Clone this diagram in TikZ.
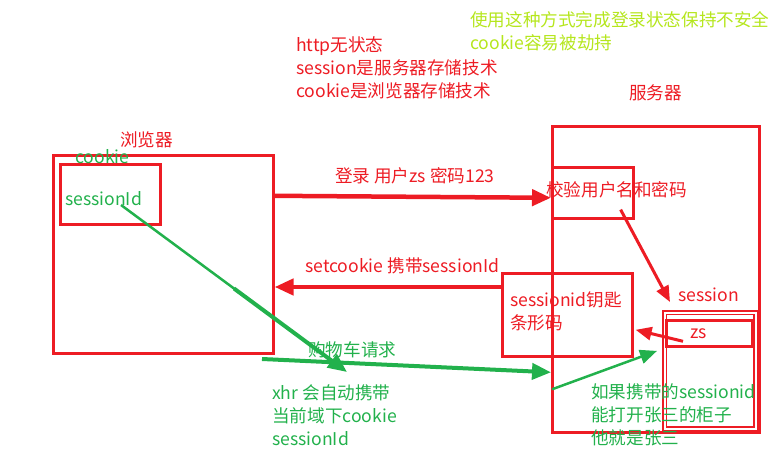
\documentclass[tikz,border=0pt]{standalone}
\usepackage{fontspec}
\setmainfont{Noto Sans CJK SC}
\usepackage{xcolor}
\usetikzlibrary{calc, positioning, arrows.meta}
\definecolor{paintred}{RGB}{237,28,36}
\definecolor{paintgreen}{RGB}{34,177,76}
\definecolor{paintlime}{RGB}{181,230,29}

\begin{document}
\begin{tikzpicture}[x=1pt, y=-1pt]
            % Block styles
            \tikzstyle{box} = [rectangle, draw=paintred, line width=2.6pt, anchor=north west, inner sep=0pt]
            \tikzstyle{lbl} = [anchor=west, inner sep=0pt, align=left, font=\fontsize{17.6}{23}\selectfont]
            \tikzstyle{red_arrow} = [draw=paintred, line width=4.5pt, -{Triangle[length=19pt, width=16pt]}]
            \tikzstyle{red_thin} = [draw=paintred, line width=3pt, -{Triangle[length=16pt, width=13pt]}]
            \tikzstyle{green_arrow} = [draw=paintgreen, line width=4pt, -{Triangle[length=19pt, width=16pt]}]
            \tikzstyle{green_thin} = [draw=paintgreen, line width=2.5pt, -{Triangle[length=17pt, width=14pt]}]
            \useasboundingbox (0,0) rectangle (784,465);
            % Browser
            \node[box, minimum width=220pt, minimum height=198pt] (browser) at (52,154) {};
            \node[box, minimum width=100pt, minimum height=60pt] (cookie_box) at (59,163) {};
            \node[lbl, text=paintred] (browser_lbl) at (120,140) {浏览器};
            \node[lbl, text=paintgreen] (cookie_lbl) at (75,157) {cookie};
            \node[lbl, text=paintgreen] (sid) at (65,199) {sessionId};
            % Server
            \node[box, minimum width=207pt, minimum height=306pt] (server) at (551,125) {};
            \node[box, minimum width=81pt, minimum height=51pt] (check_box) at (551,166) {};
            \node[box, minimum width=130pt, minimum height=83pt] (key_box) at (501,272) {};
            \node[box, line width=1.8pt, double=white, double distance=1.4pt, minimum width=91pt, minimum height=116pt] (sess_box) at (664,312) {};
            \node[box, minimum width=86pt, minimum height=26pt] (zs_box) at (665,319) {};
            \node[lbl, text=paintred] (server_lbl) at (629,93) {服务器};
            \node[lbl, text=paintred] (check_lbl) at (546,190) {校验用户名和密码};
            \node[lbl, text=paintred] (key_lbl) at (510,311) {sessionid钥匙\\条形码};
            \node[lbl, text=paintred] (sess_lbl) at (678,295) {session};
            \node[lbl, text=paintred] (zs_lbl) at (690,334) {zs};
            % Notes
            \node[lbl, text=paintred] (http_note) at (296,68) {http无状态\\session是服务器存储技术\\cookie是浏览器存储技术};
            \node[lbl, text=paintlime] (unsafe_note) at (470,31.5) {使用这种方式完成登录状态保持不安全\\cookie容易被劫持};
            \node[lbl, text=paintred] (login_lbl) at (335,176) {登录 用户zs 密码123};
            \node[lbl, text=paintred] (setcookie_lbl) at (305,266) {setcookie 携带sessionId};
            \node[lbl, text=paintgreen] (cart_lbl) at (308,350) {购物车请求};
            \node[lbl, text=paintgreen] (xhr_note) at (272,415) {xhr 会自动携带\\当前域下cookie\\sessionId};
            \node[lbl, text=paintgreen] (zs_note) at (591,415) {如果携带的sessionid\\能打开张三的柜子\\他就是张三};
            \coordinate (sid_tail) at (121,205);
            \coordinate (sid_tip) at (347,372);
            \coordinate (cart_tail) at (262,359);
            % Connections
            \draw[red_arrow] ($(check_box.west -| browser.east)+(0,3)$) -- ($(check_box.west)+(0,5)$);
            \draw[red_arrow] ($(key_box.north west)+(0,15)$) -- ($(key_box.north west -| browser.east)+(0,15)$);
            \draw[red_thin] ($(check_box.south east)+(-14,-10)$) -- ($(sess_box.north west)+(6,-10)$);
            \draw[red_thin] ($(zs_box.west)+(18,8)$) -- ($(key_box.east)+(2,15)$);
            \draw[draw=paintgreen, line width=2.5pt] (sid_tail) -- ($(sid_tail)!0.55!(sid_tip)$);
            \draw[green_arrow] ($(sid_tail)!0.5!(sid_tip)$) -- (sid_tip);
            \draw[green_arrow] (cart_tail) -- ($(server.west)+(0,93)$);
            \draw[green_thin] ($(server.west)+(1,110)$) -- ($(sess_box.west)+(-7,-20)$);
\end{tikzpicture}
\end{document}
